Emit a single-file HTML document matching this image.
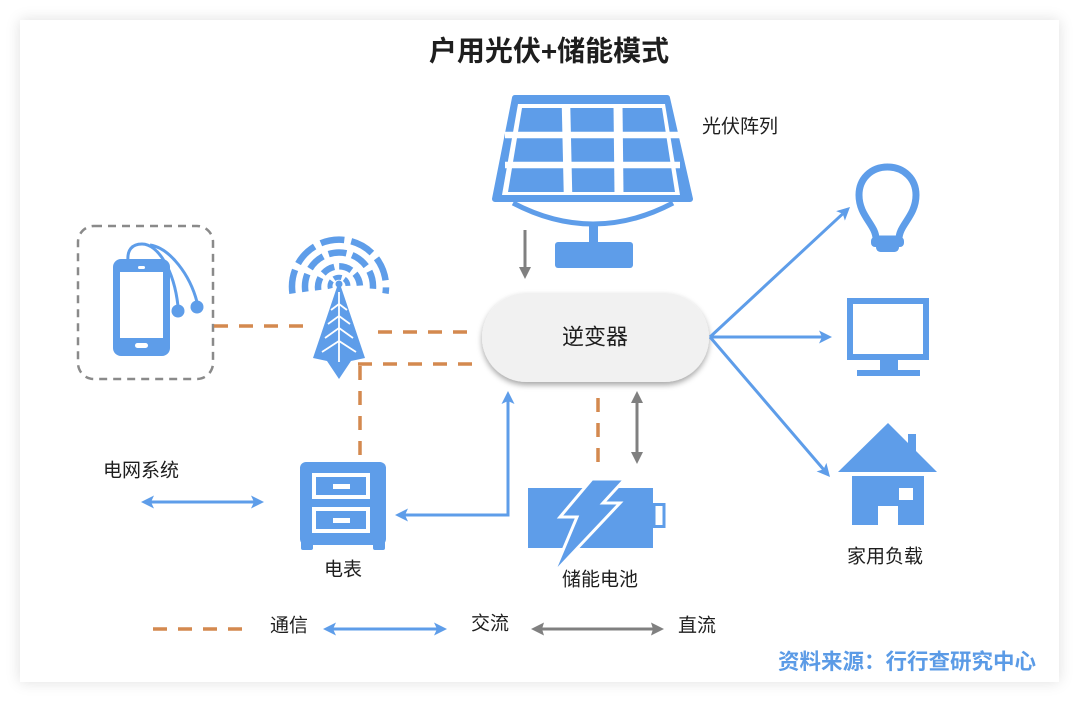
<!DOCTYPE html>
<html>
<head>
<meta charset="utf-8">
<style>
  html,body{margin:0;padding:0;background:#ffffff;}
  body{width:1080px;height:702px;overflow:hidden;position:relative;}
  .card{position:absolute;left:20px;top:20px;width:1039px;height:662px;background:#fff;
        box-shadow:0 0 14px rgba(0,0,0,0.13);}
  svg{position:absolute;left:0;top:0;}
  text{font-family:"Liberation Sans","Noto Sans CJK SC",sans-serif;fill:#1e1e1e;}
</style>
</head>
<body>
<div class="card"></div>
<svg width="1080" height="702" viewBox="0 0 1080 702" xmlns="http://www.w3.org/2000/svg">
  <defs>
    <filter id="sh" x="-20%" y="-30%" width="140%" height="170%">
      <feDropShadow dx="0" dy="3" stdDeviation="3" flood-color="#000" flood-opacity="0.35"/>
    </filter>
  </defs>

  <!-- Title -->
  <text x="549" y="51" font-size="28" font-weight="bold" text-anchor="middle" dominant-baseline="central" fill="#111">户用光伏+储能模式</text>

  <!-- Solar panel -->
  <g fill="#5e9de9">
    <polygon points="515,98 667,98 690,199 495,199" stroke="#5e9de9" stroke-width="6" stroke-linejoin="round"/>
    <polygon points="518,104 665,104 680,195 502,195" fill="#fff"/>
    <polygon points="522,108 662,108 675,192 508,192"/>
    <g stroke="#fff" fill="none">
      <line x1="505" y1="135" x2="680" y2="135" stroke-width="6.5"/>
      <line x1="505" y1="165" x2="680" y2="165" stroke-width="6.5"/>
      <line x1="566" y1="105" x2="568" y2="194" stroke-width="8.5"/>
      <line x1="618" y1="105" x2="619" y2="194" stroke-width="9"/>
    </g>
    <path d="M513,203 Q593,245 673,203" fill="none" stroke="#5e9de9" stroke-width="5"/>
    <rect x="589" y="222" width="9" height="22"/>
    <rect x="555" y="242" width="78" height="26" rx="3"/>
  </g>
  <text x="740" y="127" font-size="19" text-anchor="middle" dominant-baseline="central">光伏阵列</text>

  <!-- Gray arrow from solar to inverter -->
  <line x1="525" y1="230" x2="525" y2="268" stroke="#808080" stroke-width="3"/>
  <polygon points="525,279 519,267 531,267" fill="#808080"/>

  <!-- Phone dashed box -->
  <rect x="78" y="226" width="135" height="153" rx="16" fill="none" stroke="#8a8a8a" stroke-width="2.5" stroke-dasharray="8 6"/>
  <!-- Phone -->
  <g fill="#5e9de9">
    <rect x="113" y="259" width="57" height="97" rx="8"/>
    <rect x="120" y="272" width="43" height="66" fill="#fff"/>
    <rect x="138" y="266" width="7" height="3" rx="1.5" fill="#fff"/>
    <rect x="135" y="343" width="13" height="5" rx="2.5" fill="#fff"/>
    <path d="M128,261 C127,250 132,244 142,244 C158,244 174,270 178,306" fill="none" stroke="#5e9de9" stroke-width="3"/>
    <path d="M150,245 C170,248 190,275 197,302" fill="none" stroke="#5e9de9" stroke-width="3"/>
    <circle cx="178" cy="311" r="6.5"/>
    <circle cx="197" cy="307" r="6.5"/>
  </g>

  <!-- Tower -->
  <g fill="none" stroke="#5e9de9" stroke-width="6.5">
    <path d="M292.5,293.5 A47,47 0 1 1 385.5,293.5" stroke-dasharray="24 7"/>
    <path d="M305.4,291.7 A34,34 0 1 1 372.6,291.7" stroke-dasharray="18 6"/>
    <path d="M318.2,290.2 A21,21 0 1 1 359.8,290.2" stroke-dasharray="13 5"/>
    <path d="M330.3,288.5 A9,9 0 1 1 347.7,288.5" stroke-dasharray="8 3" stroke-width="5"/>
  </g>
  <g>
    <polygon points="339,281 365,358 351,361 339,379 327,361 313,358" fill="#5e9de9"/>
    <g stroke="#fff" stroke-width="1.8" fill="none">
      <line x1="339" y1="292" x2="339" y2="362"/>
      <polyline points="331,310 339,304 347,310"/>
      <polyline points="328,324 339,316 350,324"/>
      <polyline points="325,338 339,328 353,338"/>
      <polyline points="322,352 339,341 356,352"/>
    </g>
    <circle cx="339" cy="284" r="3.5" fill="#5e9de9"/>
  </g>

  <!-- Orange dashed communication lines -->
  <g stroke="#d4894f" stroke-width="3.5" fill="none" stroke-dasharray="14 11">
    <line x1="214" y1="326" x2="306" y2="326"/>
    <line x1="378" y1="332" x2="472" y2="332"/>
    <line x1="358" y1="364" x2="483" y2="364"/>
    <line x1="360" y1="366" x2="360" y2="460"/>
    <line x1="598" y1="398" x2="598" y2="462"/>
  </g>

  <!-- Inverter -->
  <rect x="482" y="293" width="227" height="89" rx="44.5" fill="#f1f1f1" filter="url(#sh)"/>
  <text x="595" y="337" font-size="22" text-anchor="middle" dominant-baseline="central">逆变器</text>

  <!-- Gray double arrow inverter-battery -->
  <line x1="637" y1="402" x2="637" y2="453" stroke="#808080" stroke-width="3"/>
  <polygon points="637,391 631,403 643,403" fill="#808080"/>
  <polygon points="637,464 631,452 643,452" fill="#808080"/>

  <!-- Blue arrow meter <-> inverter -->
  <g stroke="#5e9de9" stroke-width="3" fill="none">
    <polyline points="404,515 508,515 508,401"/>
  </g>
  <polygon points="395,515 408,508.5 405,515 408,521.5" fill="#5e9de9"/>
  <polygon points="508,391 501.5,404 508,401 514.5,404" fill="#5e9de9"/>

  <!-- Grid arrow -->
  <line x1="150" y1="502" x2="255" y2="502" stroke="#5e9de9" stroke-width="3"/>
  <polygon points="141,502 154,495.5 151,502 154,508.5" fill="#5e9de9"/>
  <polygon points="264,502 251,495.5 254,502 251,508.5" fill="#5e9de9"/>
  <text x="141" y="471" font-size="19" text-anchor="middle" dominant-baseline="central">电网系统</text>

  <!-- Meter -->
  <g fill="#5e9de9">
    <rect x="300" y="462" width="86" height="83" rx="6"/>
    <rect x="301" y="538" width="12" height="12" rx="2"/>
    <rect x="373" y="538" width="12" height="12" rx="2"/>
    <rect x="314" y="475" width="54" height="22" fill="none" stroke="#fff" stroke-width="4"/>
    <rect x="314" y="509" width="54" height="22" fill="none" stroke="#fff" stroke-width="4"/>
    <rect x="333" y="484" width="17" height="5" fill="#fff"/>
    <rect x="333" y="518" width="17" height="5" fill="#fff"/>
  </g>
  <text x="343" y="570" font-size="19" text-anchor="middle" dominant-baseline="central">电表</text>

  <!-- Battery -->
  <g>
    <rect x="528" y="488" width="125" height="60" fill="#5e9de9"/>
    <rect x="654" y="504.5" width="10" height="22" fill="#fff" stroke="#5e9de9" stroke-width="3"/>
    <polygon points="592,479 625,479 603,503 620,503 553,574 577,517 560,517" fill="#5e9de9" stroke="#fff" stroke-width="3" stroke-linejoin="miter"/>
  </g>
  <text x="600" y="580" font-size="19" text-anchor="middle" dominant-baseline="central">储能电池</text>

  <!-- Right-side load arrows -->
  <g stroke="#5e9de9" stroke-width="3" fill="none">
    <line x1="710" y1="337" x2="842.7" y2="213.8"/>
    <line x1="710" y1="337" x2="822" y2="337"/>
    <line x1="710" y1="337" x2="823.5" y2="469.4"/>
  </g>
  <polygon points="850,207 844.9,220.6 842.7,213.8 836.1,211.1" fill="#5e9de9"/>
  <polygon points="832,337 819,330.5 822,337 819,343.5" fill="#5e9de9"/>
  <polygon points="830,477 816.6,471.4 823.5,469.4 826.4,462.9" fill="#5e9de9"/>

  <!-- Bulb -->
  <g>
    <path d="M876,239 C876,225 859,216 859,195 C859,179 871,167 887.5,167 C904,167 916,179 916,195 C916,216 899,225 899,239 Z" fill="none" stroke="#5e9de9" stroke-width="7" stroke-linejoin="round"/>
    <rect x="871" y="237" width="33" height="10" rx="4" fill="#5e9de9"/>
    <rect x="876" y="243" width="23" height="9" rx="4.5" fill="#5e9de9"/>
  </g>

  <!-- Monitor -->
  <g fill="#5e9de9">
    <rect x="850" y="301" width="76" height="56" fill="none" stroke="#5e9de9" stroke-width="6"/>
    <rect x="880" y="359" width="18" height="12"/>
    <rect x="857" y="370" width="63" height="6"/>
  </g>

  <!-- House -->
  <g fill="#5e9de9">
    <rect x="908" y="434" width="8" height="20"/>
    <polygon points="888,423 937,472 838,472"/>
    <rect x="852" y="476" width="72" height="49"/>
    <rect x="878" y="506" width="20" height="19" fill="#fff"/>
    <rect x="899" y="488" width="14" height="12" fill="#fff"/>
  </g>
  <text x="885" y="557" font-size="19" text-anchor="middle" dominant-baseline="central">家用负载</text>

  <!-- Legend -->
  <line x1="153" y1="629" x2="244" y2="629" stroke="#d4894f" stroke-width="3.5" stroke-dasharray="14 11"/>
  <text x="289" y="626" font-size="19" text-anchor="middle" dominant-baseline="central">通信</text>
  <line x1="332" y1="629" x2="438" y2="629" stroke="#5e9de9" stroke-width="3"/>
  <polygon points="323,629 336,622.5 333,629 336,635.5" fill="#5e9de9"/>
  <polygon points="447,629 434,622.5 437,629 434,635.5" fill="#5e9de9"/>
  <text x="490" y="624" font-size="19" text-anchor="middle" dominant-baseline="central">交流</text>
  <line x1="542" y1="629" x2="653" y2="629" stroke="#808080" stroke-width="3"/>
  <polygon points="531,629 544,622.5 542,629 544,635.5" fill="#808080"/>
  <polygon points="664,629 651,622.5 653,629 651,635.5" fill="#808080"/>
  <text x="697" y="626" font-size="19" text-anchor="middle" dominant-baseline="central">直流</text>

  <!-- Watermark -->
  <text x="1036" y="662" font-size="21.5" font-weight="bold" text-anchor="end" dominant-baseline="central" fill="#5b9be6" style="fill:#5b9be6">资料来源：行行查研究中心</text>
</svg>
</body>
</html>
